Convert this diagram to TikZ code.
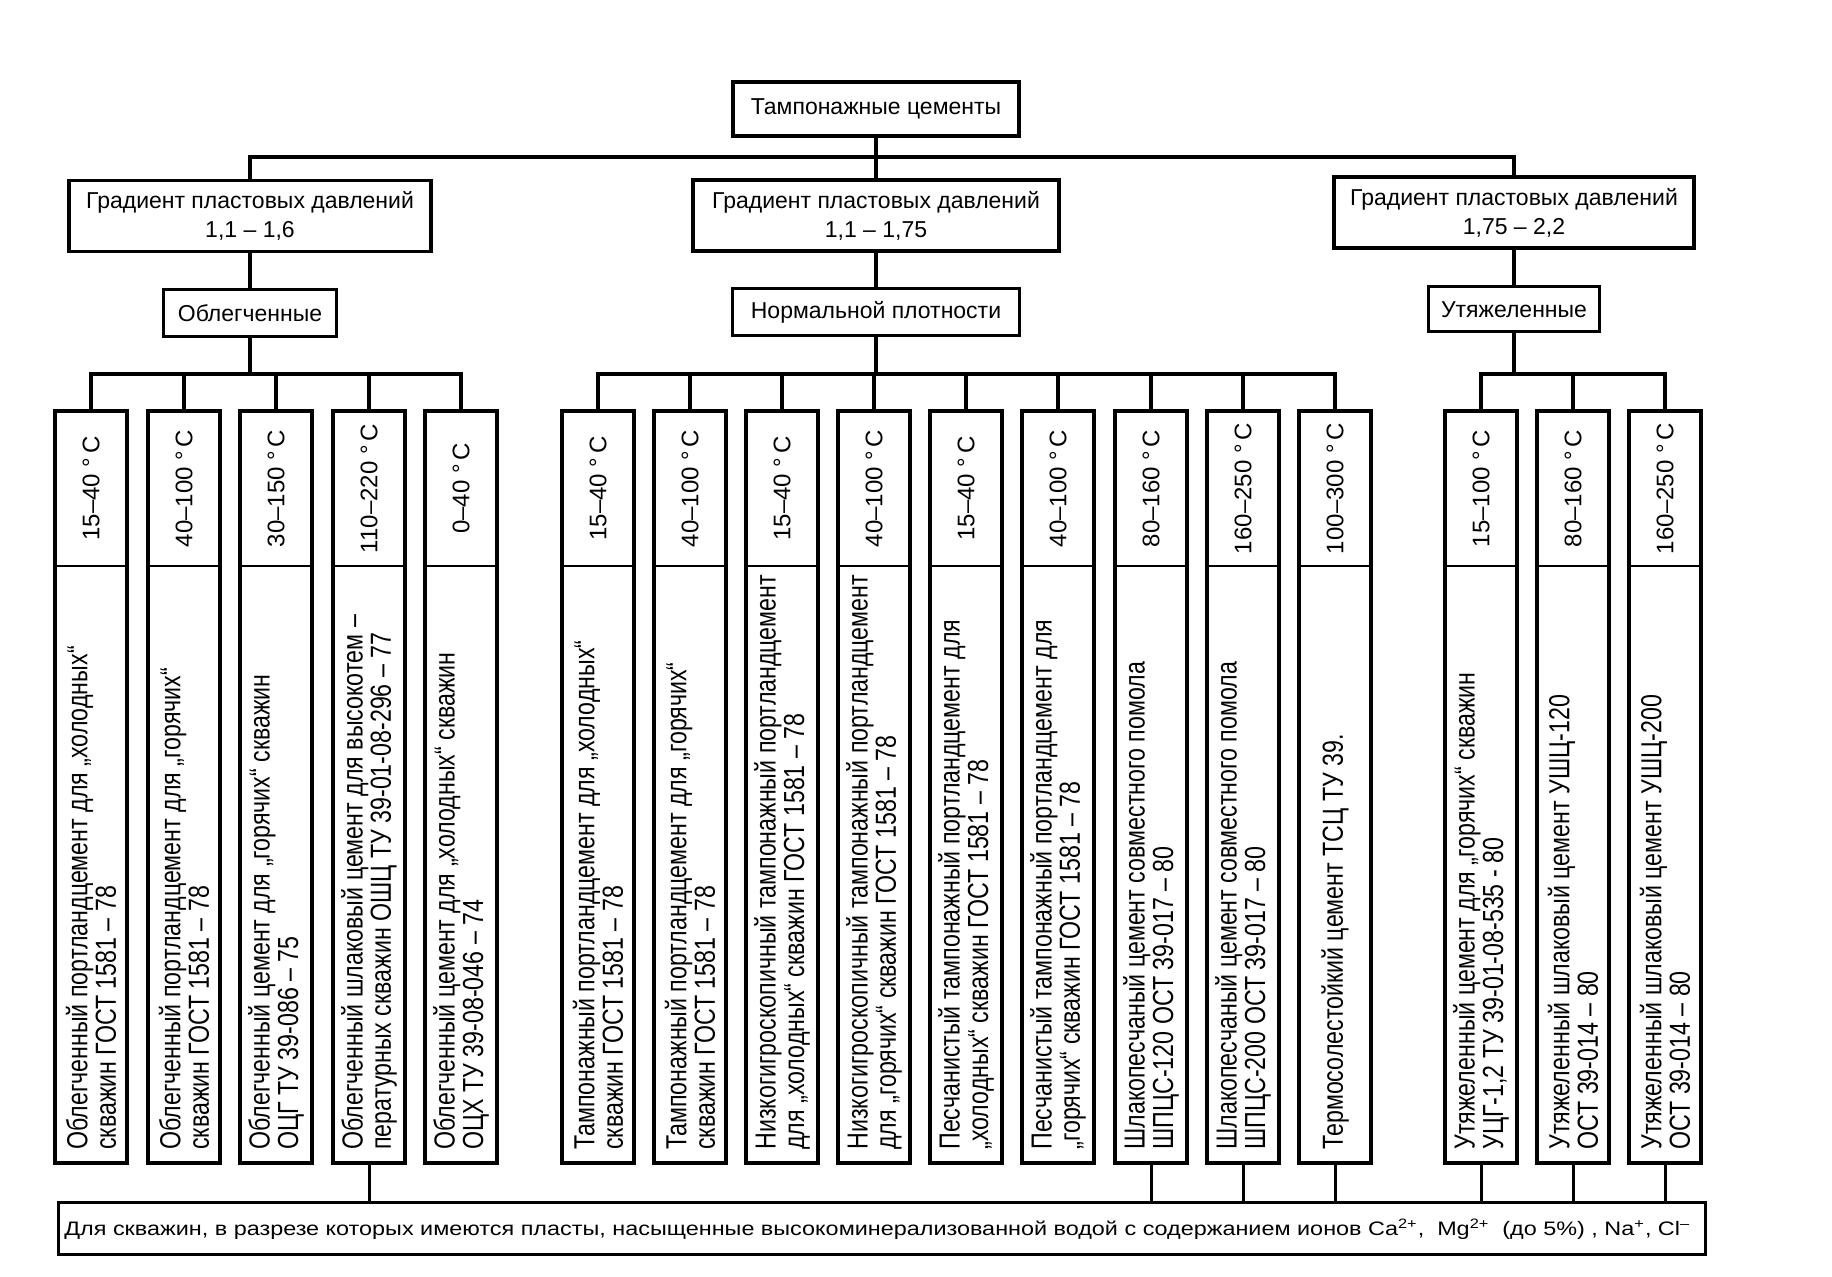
\documentclass[tikz,border=0pt]{standalone}
\usepackage{fontspec}
\setmainfont{Liberation Sans}
\newfontfamily\cond{Liberation Sans}[FakeStretch=0.8]
\newfontfamily\widef{Liberation Sans}[FakeStretch=1.2]
\newcommand\mkcol[4]{%
  \node[colbox] (#1) at (#2,787) {};
  \draw[divl] (#2-36,566) -- (#2+36,566);
  \node[tempt] (#1t) at (#2,488.5) {#3};
  \node[colt] (#1x) at (#2,1150) {#4};
}
\begin{document}
\begin{tikzpicture}[x=0.5pt,y=-0.5pt,
  box/.style={draw, line width=1.8pt, inner sep=0pt, align=center,
    font=\fontsize{11.5}{14.5}\selectfont},
  subbox/.style={box, line width=1.5pt},
  conn/.style={line width=1.8pt},
  lowconn/.style={line width=1.5pt},
  colbox/.style={draw, line width=1.7pt, minimum width=36pt, minimum height=376pt, inner sep=0pt},
  divl/.style={line width=1pt},
  tempt/.style={rotate=90, inner sep=0pt, font=\fontsize{12}{14}\selectfont},
  colt/.style={rotate=90, anchor=west, inner sep=0pt, align=left,
    font=\cond\fontsize{14.5}{14.2}\selectfont},
]
\useasboundingbox (0,0) rectangle (1832,1277);
\fill[white] (0,0) rectangle (1832,1277);

% top level
\node[box, minimum width=143pt, minimum height=27pt] (root) at (876,109) {Тампонажные цементы};
\coordinate (hub) at (876,157);

\node[box, minimum width=181pt, minimum height=35.5pt] (g1) at (250,216) {Градиент пластовых давлений\\1,1 – 1,6};
\node[box, minimum width=183pt, minimum height=35.5pt] (g2) at (876,215.5) {Градиент пластовых давлений\\1,1 – 1,75};
\node[box, minimum width=180pt, minimum height=35.5pt] (g3) at (1514,212.5) {Градиент пластовых давлений\\1,75 – 2,2};

\node[subbox, minimum width=86.5pt, minimum height=23.5pt] (s1) at (250,313.5) {Облегченные};
\node[subbox, minimum width=143.5pt, minimum height=23.5pt] (s2) at (876,312.5) {Нормальной плотности};
\node[subbox, minimum width=85.5pt, minimum height=22.5pt] (s3) at (1514,309.5) {Утяжеленные};

\draw[conn] (root.south) -- (g2.north);
\draw[conn] (g1.north) |- (hub) -| (g3.north);
\draw[conn] (g1.south) -- (s1.north);
\draw[conn] (g2.south) -- (s2.north);
\draw[conn] (g3.south) -- (s3.north);

\coordinate (b1) at (250,374);
\coordinate (b2) at (876,374);
\coordinate (b3) at (1514,374);

% left group
\mkcol{L1}{91}{15–40 °\,C}{Облегченный портландцемент для „холодных“\\скважин ГОСТ 1581 – 78}
\mkcol{L2}{184}{40–100 °\,C}{Облегченный портландцемент для „горячих“\\скважин ГОСТ 1581 – 78}
\mkcol{L3}{276}{30–150 °\,C}{Облегченный цемент для „горячих“ скважин\\ОЦГ ТУ 39-086 – 75}
\mkcol{L4}{369}{110–220 °\,C}{Облегченный шлаковый цемент для высокотем –\\пературных скважин ОШЦ ТУ 39-01-08-296 – 77}
\mkcol{L5}{461}{0–40 °\,C}{Облегченный цемент для „холодных“ скважин\\ОЦХ ТУ 39-08-046 – 74}

% middle group
\mkcol{M1}{598}{15–40 °\,C}{Тампонажный портландцемент для „холодных“\\скважин ГОСТ 1581 – 78}
\mkcol{M2}{690}{40–100 °\,C}{Тампонажный портландцемент для „горячих“\\скважин ГОСТ 1581 – 78}
\mkcol{M3}{782}{15–40 °\,C}{Низкогигроскопичный тампонажный портландцемент\\для „холодных“ скважин ГОСТ 1581 – 78}
\mkcol{M4}{874}{40–100 °\,C}{Низкогигроскопичный тампонажный портландцемент\\для „горячих“ скважин ГОСТ 1581 – 78}
\mkcol{M5}{966}{15–40 °\,C}{Песчанистый тампонажный портландцемент для\\„холодных“ скважин ГОСТ 1581 – 78}
\mkcol{M6}{1058}{40–100 °\,C}{Песчанистый тампонажный портландцемент для\\„горячих“ скважин ГОСТ 1581 – 78}
\mkcol{M7}{1151}{80–160 °\,C}{Шлакопесчаный цемент совместного помола\\ШПЦС-120 ОСТ 39-017 – 80}
\mkcol{M8}{1243}{160–250 °\,C}{Шлакопесчаный цемент совместного помола\\ШПЦС-200 ОСТ 39-017 – 80}
\mkcol{M9}{1335}{100–300 °\,C}{Термосолестойкий цемент ТСЦ ТУ 39.}

% right group
\mkcol{R1}{1481}{15–100 °\,C}{Утяжеленный цемент для „горячих“ скважин\\УЦГ-1,2 ТУ 39-01-08-535 - 80}
\mkcol{R2}{1573}{80–160 °\,C}{Утяжеленный шлаковый цемент УШЦ-120\\ОСТ 39-014 – 80}
\mkcol{R3}{1665}{160–250 °\,C}{Утяжеленный шлаковый цемент УШЦ-200\\ОСТ 39-014 – 80}

% group buses
\draw[conn] (s1.south) -- (b1);
\draw[conn] (L1.north) |- (b1) -| (L5.north);
\foreach \c in {L2,L3,L4} \draw[conn] (\c.north) -- (\c.north |- b1);
\draw[conn] (s2.south) -- (b2);
\draw[conn] (M1.north) |- (b2) -| (M9.north);
\foreach \c in {M2,M3,M4,M5,M6,M7,M8} \draw[conn] (\c.north) -- (\c.north |- b2);
\draw[conn] (s3.south) -- (b3);
\draw[conn] (R1.north) |- (b3) -| (R3.north);
\draw[conn] (R2.north) -- (R2.north |- b3);

% bottom box
\node[draw, line width=1.5pt, minimum width=823.5pt, minimum height=26pt, inner sep=0pt] (bot) at (881.5,1228) {};
\node[anchor=west, inner sep=0pt, font=\widef\fontsize{9.75}{12}\selectfont] (bott) at (64,1229)
  {Для скважин, в разрезе которых имеются пласты, насыщенные высокоминерализованной водой с содержанием ионов Ca\textsuperscript{2+},\ \ Mg\textsuperscript{2+}\ \ (до 5\%) , Na\textsuperscript{+}, Cl\textsuperscript{–}};
\foreach \c in {L4,M7,M8,M9,R1,R2,R3} \draw[lowconn] (\c.south) -- (\c.south |- bot.north);
\end{tikzpicture}
\end{document}
